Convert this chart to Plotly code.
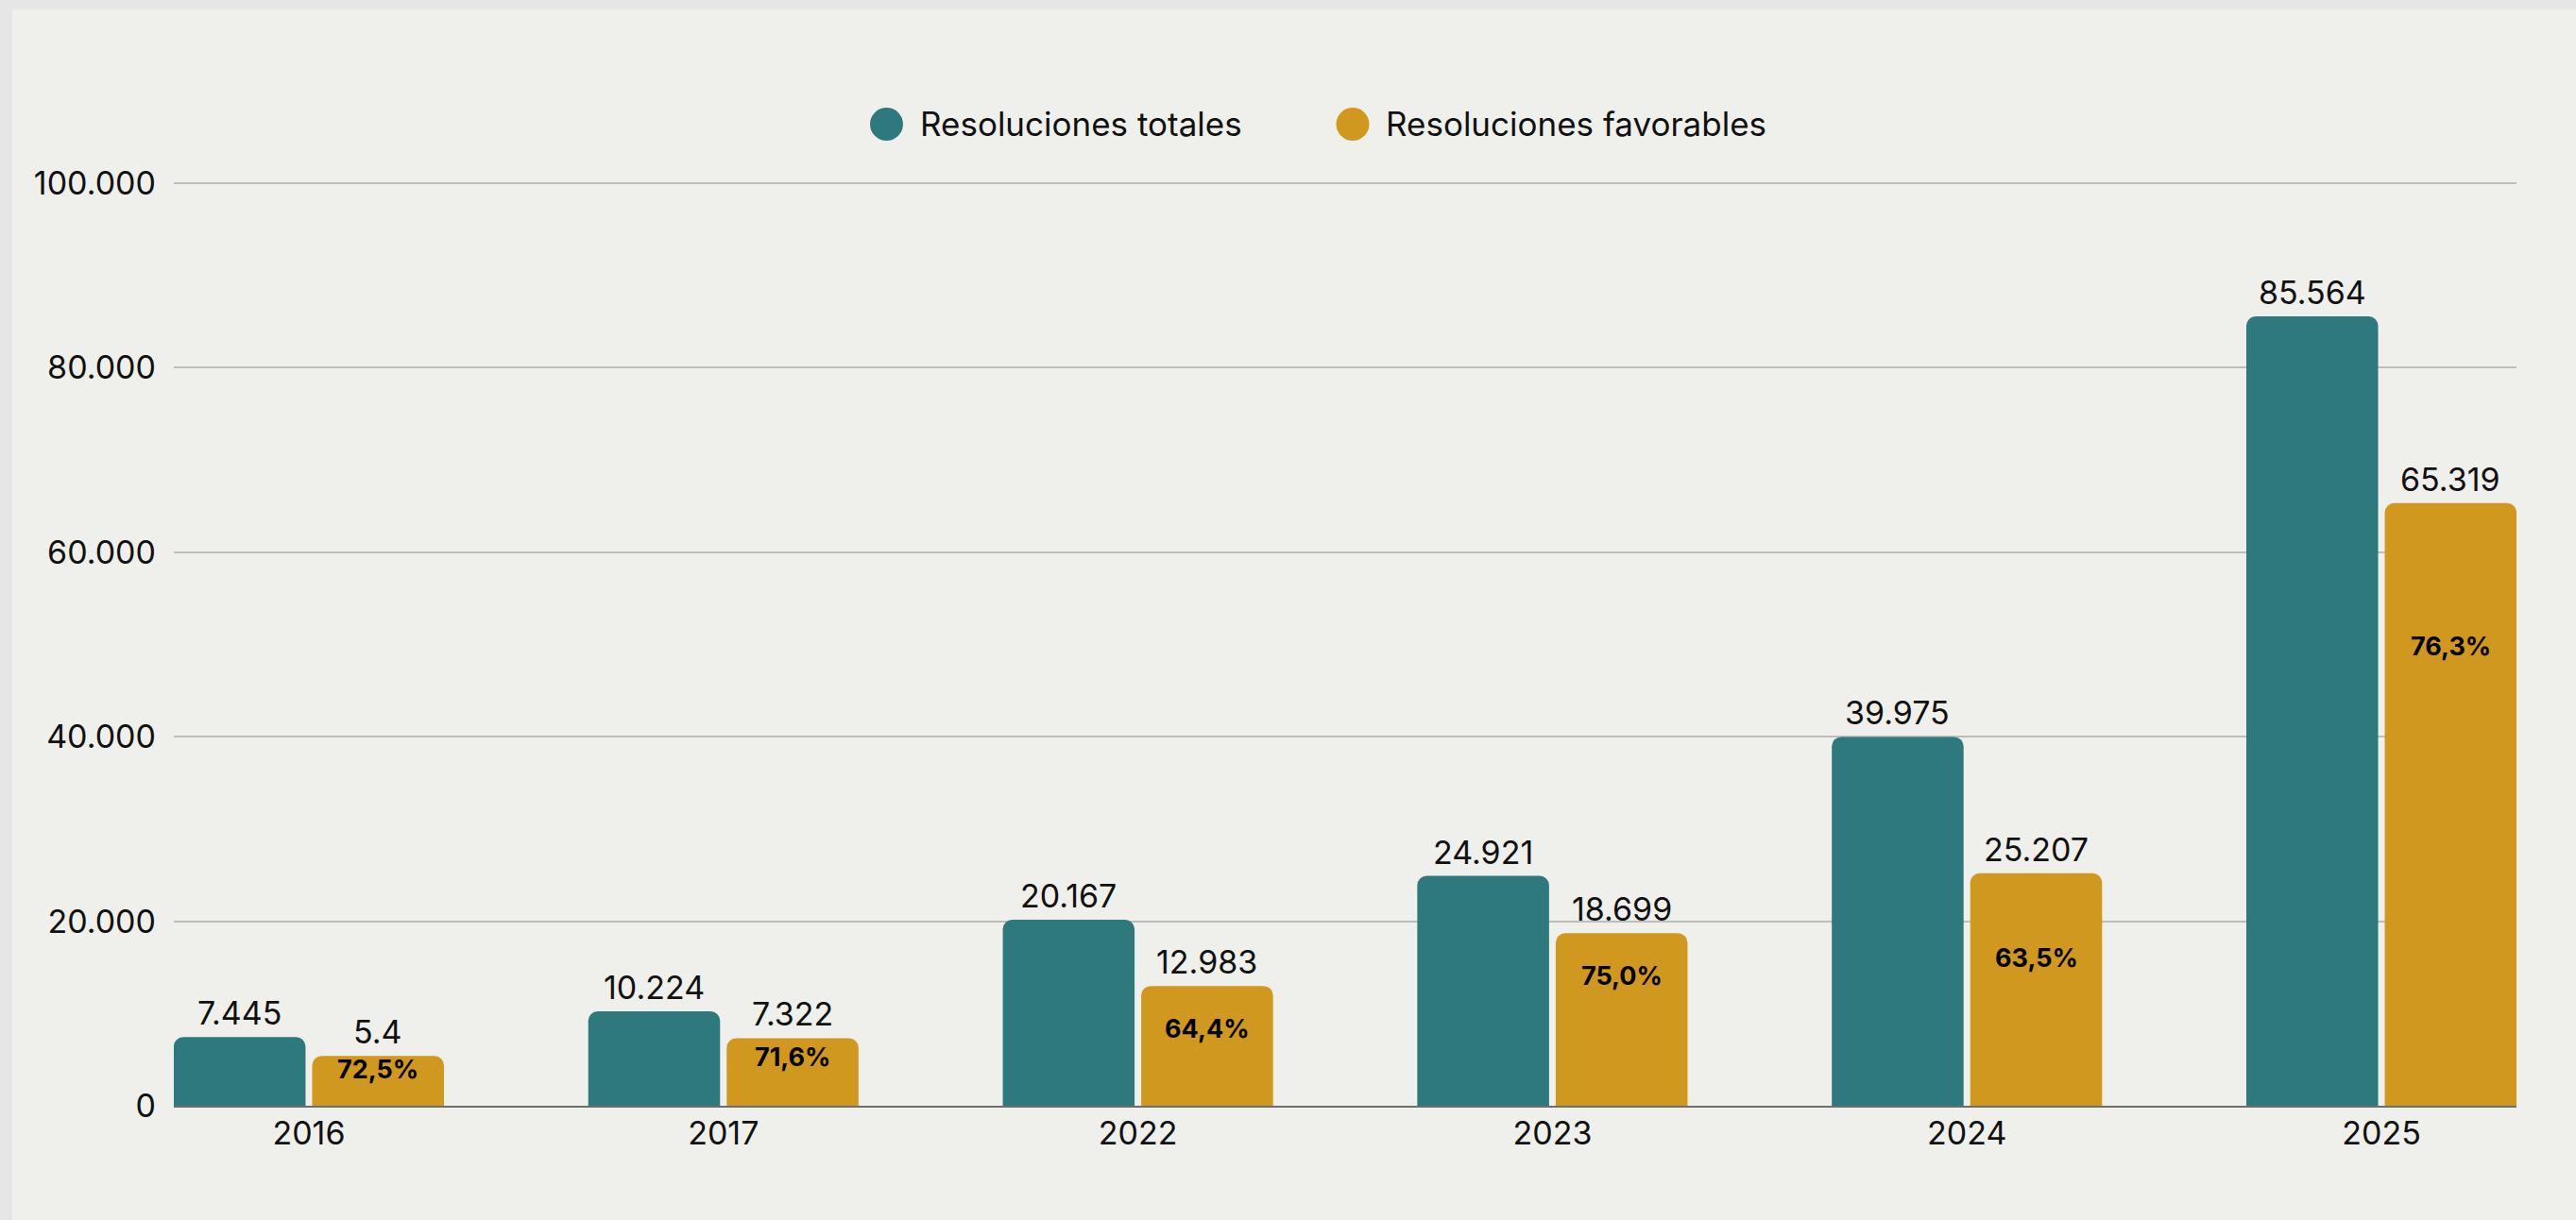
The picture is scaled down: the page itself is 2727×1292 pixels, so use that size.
import plotly.graph_objects as go

# ---------------- data ----------------
years = ["2016", "2017", "2022", "2023", "2024", "2025"]
totales = [7445, 10224, 20167, 24921, 39975, 85564]
favorables = [5400, 7322, 12983, 18699, 25207, 65319]
fav_labels = ["5.4", "7.322", "12.983", "18.699", "25.207", "65.319"]
pct_favorables = [72.5, 71.6, 64.4, 75.0, 63.5, 76.3]
y_ticks = [0, 20000, 40000, 60000, 80000, 100000]
series_names = ["Resoluciones totales", "Resoluciones favorables"]

# ---------------- style ----------------
W, H = 2727, 1292
ML, MR, MT, MB = 184, 63, 189, 121
PW, PH = W - ML - MR, H - MT - MB
Y_MAX = 100000 * PH / 977.0  # 977 px per 100.000 as in the reference
TEAL = "#2e797d"
GOLD = "#d0981e"
INNER_BG = "#eff0eb"
OUTER_BG = "#e6e6e6"
BAR_W = 0.318
OFF_T = -0.326
OFF_G = 0.008
NUM_FONT = "Inter, 'Open Sans', sans-serif"
LEG_FONT = "Inter, 'Open Sans', sans-serif"


def px_x(px):
    return (px - ML) / PW


def px_y(py):
    return (H - MB - py) / PH


def fmt_thousands(v):
    return f"{v:,}".replace(",", ".")


fig = go.Figure()
fig.add_trace(go.Bar(
    x=years, y=totales, name=series_names[0],
    marker=dict(color=TEAL, line=dict(width=0), cornerradius=10),
    width=BAR_W, offset=OFF_T, showlegend=False, hoverinfo="x+y",
))
fig.add_trace(go.Bar(
    x=years, y=favorables, name=series_names[1],
    marker=dict(color=GOLD, line=dict(width=0), cornerradius=10),
    width=BAR_W, offset=OFF_G, showlegend=False, hoverinfo="x+y",
))

annotations = []
for i, (t, f, fl, p) in enumerate(zip(totales, favorables, fav_labels, pct_favorables)):
    annotations.append(dict(
        x=i + OFF_T + BAR_W / 2, y=t, xref="x", yref="y", text=fmt_thousands(t),
        showarrow=False, yanchor="bottom", xanchor="center", yshift=3,
        font=dict(family=NUM_FONT, size=34, color="#111111"),
    ))
    annotations.append(dict(
        x=i + OFF_G + BAR_W / 2, y=f, xref="x", yref="y", text=fl,
        showarrow=False, yanchor="bottom", xanchor="center", yshift=3,
        font=dict(family=NUM_FONT, size=34, color="#111111"),
    ))
    annotations.append(dict(
        x=i + OFF_G + BAR_W / 2, y=f * p / 100, xref="x", yref="y",
        text=f"{p:.1f}%".replace(".", ","),
        showarrow=False, yanchor="middle", xanchor="center",
        font=dict(family=NUM_FONT, size=27, color="#000000", weight=700),
    ))

# manual legend (large round markers)
legend_items = [(series_names[0], TEAL, 938.5, 972), (series_names[1], GOLD, 1432, 1465)]
shapes = [dict(
    type="rect", xref="paper", yref="paper", layer="below",
    x0=px_x(13), x1=px_x(W + 5), y0=px_y(10), y1=px_y(H + 5),
    fillcolor=INNER_BG, line=dict(width=0),
)]
LEG_Y = 131.5
for name, col, cx, tx in legend_items:
    shapes.append(dict(
        type="circle", xref="paper", yref="paper", xsizemode="pixel", ysizemode="pixel",
        xanchor=px_x(cx), yanchor=px_y(LEG_Y), x0=-17.5, x1=17.5, y0=-17.5, y1=17.5,
        fillcolor=col, line=dict(width=0), layer="above",
    ))
    annotations.append(dict(
        x=px_x(tx), y=px_y(LEG_Y), xref="paper", yref="paper", text=name,
        showarrow=False, xanchor="left", yanchor="middle",
        font=dict(family=LEG_FONT, size=35, color="#111111"),
    ))

fig.update_layout(
    width=W, height=H,
    margin=dict(l=ML, r=MR, t=MT, b=MB, pad=0),
    paper_bgcolor=OUTER_BG, plot_bgcolor="rgba(0,0,0,0)",
    separators=",.",
    showlegend=False,
    shapes=shapes, annotations=annotations,
    barmode="group",
    font=dict(family=NUM_FONT, color="#111111"),
)
fig.update_xaxes(
    type="category", range=[-0.3258, len(years) - 1 + 0.3258],
    showgrid=False, zeroline=False, showline=True, linecolor="#6e6e6e", linewidth=2,
    layer="below traces", ticks="", tickfont=dict(family=NUM_FONT, size=34, color="#111111"),
    ticklabelstandoff=-2,
)
fig.update_yaxes(
    range=[0, Y_MAX], tickvals=y_ticks, tickformat=",d",
    showgrid=True, gridcolor="#bebeb9", gridwidth=1.5, zeroline=False, showline=False,
    ticks="", tickfont=dict(family=NUM_FONT, size=34, color="#111111"),
    ticklabelstandoff=18,
)

fig.write_html(
    "out.html",
    config={"displayModeBar": False},
    post_script="document.body.style.margin='0';document.body.style.overflow='hidden';",
)
